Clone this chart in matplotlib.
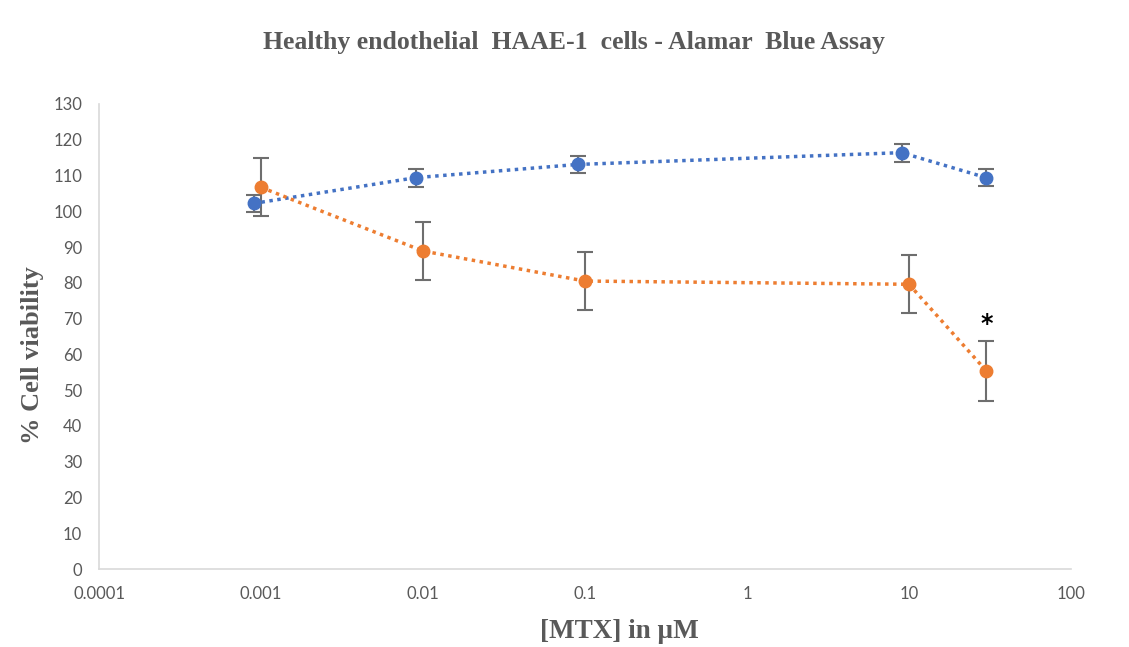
import matplotlib
matplotlib.use('Agg')
import matplotlib.pyplot as plt
from matplotlib.ticker import FixedLocator, FixedFormatter, NullLocator

# data
healthy_x   = [0.0009, 0.009, 0.09, 9, 30]
healthy_y   = [102.2, 109.4, 113.1, 116.4, 109.4]
healthy_err = [2.4, 2.5, 2.3, 2.5, 2.3]

mtx_x   = [0.001, 0.01, 0.1, 10, 30]
mtx_y   = [106.7, 88.9, 80.5, 79.6, 55.4]
mtx_err = [8.1, 8.2, 8.2, 8.1, 8.3]

xticks = [0.0001, 0.001, 0.01, 0.1, 1, 10, 100]
xtick_labels = ["0.0001", "0.001", "0.01", "0.1", "1", "10", "100"]
yticks = list(range(0, 131, 10))

star_x, star_y = 30, 68.5

BLUE = "#4472C4"
ORANGE = "#ED7D31"
GREY = "#595959"
ERRC = "#6E6E6E"

fig = plt.figure(figsize=(11.29, 6.47), dpi=100)
ax = fig.add_axes([99/1129, 1 - 569/647, (1071 - 99)/1129, (569 - 104)/647])

for x, y, e, c in [(healthy_x, healthy_y, healthy_err, BLUE),
                   (mtx_x, mtx_y, mtx_err, ORANGE)]:
    ax.errorbar(x, y, yerr=e, fmt='none', ecolor=ERRC, elinewidth=1.5,
                capsize=6, capthick=1.5, zorder=2)
    ax.plot(x, y, linestyle=(0, (1, 1.3)), linewidth=2.5, color=c,
            marker='o', markersize=9, markeredgecolor=c, zorder=3)

ax.text(star_x, star_y, "*", ha='center', va='center', fontsize=17,
        fontweight='bold', color='black', family='DejaVu Sans')

ax.set_xscale('log')
ax.set_xlim(0.0001, 100)
ax.set_ylim(0, 130)
ax.xaxis.set_major_locator(FixedLocator(xticks))
ax.xaxis.set_major_formatter(FixedFormatter(xtick_labels))
ax.xaxis.set_minor_locator(NullLocator())
ax.set_yticks(yticks)

for s in ['top', 'right']:
    ax.spines[s].set_visible(False)
for s in ['left', 'bottom']:
    ax.spines[s].set_color('#D9D9D9')
    ax.spines[s].set_linewidth(1.2)

ax.tick_params(axis='both', length=0, colors=GREY, labelsize=12)
ax.tick_params(axis='x', pad=12)
ax.tick_params(axis='y', pad=12)
for lab in ax.get_xticklabels() + ax.get_yticklabels():
    lab.set_family('Lato')

serif = 'Liberation Serif'
fig.text(574/1129, 1 - 43/647, "Healthy endothelial  HAAE-1  cells - Alamar  Blue Assay",
         ha='center', va='center', fontsize=18.5, fontweight='bold', color=GREY, family=serif)
fig.text(619/1129, 1 - 632/647, "[MTX] in \u00b5M", ha='center', va='center',
         fontsize=19.5, fontweight='bold', color=GREY, family=serif)
fig.text(33/1129, 1 - 355/647, "% Cell viability", ha='center', va='center',
         rotation=90, fontsize=19, fontweight='bold', color=GREY, family=serif)

fig.savefig("out.png", dpi=100)
